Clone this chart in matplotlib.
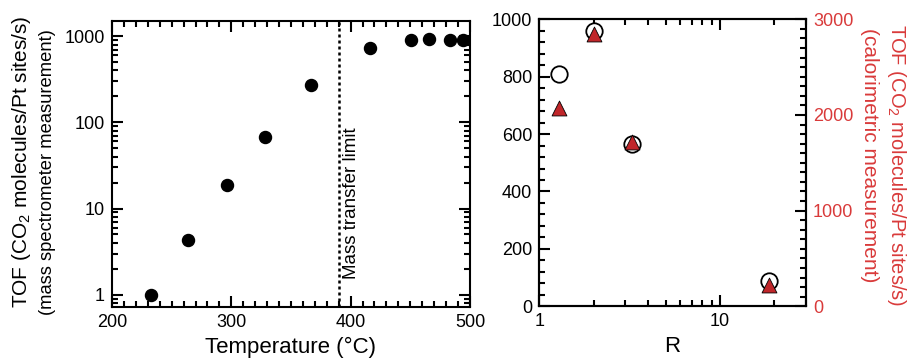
import matplotlib
matplotlib.use("Agg")
import matplotlib.pyplot as plt
from matplotlib.ticker import MultipleLocator, LogLocator, NullFormatter, FixedLocator

plt.rcParams["font.family"] = ["Liberation Sans", "DejaVu Sans"]
plt.rcParams["mathtext.fontset"] = "custom"
plt.rcParams["mathtext.rm"] = "Liberation Sans"
plt.rcParams["mathtext.it"] = "Liberation Sans:italic"

# left panel: TOF vs temperature (mass spectrometer)
temp_c = [233, 264, 296, 328, 367, 416, 451, 466, 483, 494]
tof_ms = [0.98, 4.3, 18.7, 68, 273, 720, 900, 918, 893, 901]
mass_limit_t = 390

# right panel: TOF vs R
r_circ = [1.29, 2.0, 3.28, 18.7]
tof_circ = [810, 960, 565, 88]
r_tri = [1.29, 2.0, 3.28, 18.7]
tof_cal = [2070, 2850, 1720, 220]

red = "#d93a3a"
dark_red = "#c0262a"

fig = plt.figure(figsize=(9.09, 3.6), dpi=100)

ax1 = fig.add_axes([0.1232, 0.1472, 0.3938, 0.7944])
ax1.scatter(temp_c, tof_ms, s=75, color="black", zorder=3, clip_on=False)
ax1.axvline(mass_limit_t, color="black", ls=(0, (1.2, 1.2)), lw=1.8)
ax1.text(mass_limit_t + 4, 11.6, "Mass transfer limit", rotation=90,
         ha="left", va="center", fontsize=13.5)
ax1.set_yscale("log")
ax1.set_xlim(200, 500)
ax1.set_ylim(0.72, 1500)
ax1.xaxis.set_major_locator(MultipleLocator(100))
ax1.xaxis.set_minor_locator(MultipleLocator(10))
ax1.yaxis.set_major_locator(FixedLocator([1, 10, 100, 1000]))
ax1.yaxis.set_major_formatter(matplotlib.ticker.FixedFormatter(["1", "10", "100", "1000"]))
ax1.yaxis.set_minor_locator(LogLocator(base=10, subs=range(2, 10)))
ax1.yaxis.set_minor_formatter(NullFormatter())
ax1.tick_params(which="both", direction="in", top=True, right=True, width=1.5)
ax1.tick_params(which="major", length=8, labelsize=13, pad=5)
ax1.tick_params(which="minor", length=4.5)
for sp in ax1.spines.values():
    sp.set_linewidth(1.5)
ax1.set_xlabel("Temperature (°C)", fontsize=16, labelpad=4)

fig.text(0.024, 0.55, r"TOF (CO$_2$ molecules/Pt sites/s)", rotation=90,
         ha="center", va="center", fontsize=15)
fig.text(0.052, 0.522, "(mass spectrometer measurement)", rotation=90,
         ha="center", va="center", fontsize=13.2)

ax2 = fig.add_axes([0.5933, 0.1492, 0.2934, 0.7972])
ax2.scatter(r_circ, tof_circ, s=140, facecolor="white", edgecolor="black",
            linewidth=1.3, zorder=3, clip_on=False)
ax2.set_xscale("log")
ax2.set_xlim(1, 30)
ax2.set_ylim(0, 1000)
ax2.xaxis.set_major_locator(FixedLocator([1, 10]))
ax2.xaxis.set_major_formatter(matplotlib.ticker.FixedFormatter(["1", "10"]))
ax2.xaxis.set_minor_locator(LogLocator(base=10, subs=range(2, 10)))
ax2.xaxis.set_minor_formatter(NullFormatter())
ax2.yaxis.set_major_locator(MultipleLocator(200))
ax2.yaxis.set_minor_locator(MultipleLocator(40))
ax2.tick_params(which="both", direction="in", top=True, width=1.5)
ax2.tick_params(which="major", length=8, labelsize=13, pad=5)
ax2.tick_params(which="minor", length=4.5)
for sp in ax2.spines.values():
    sp.set_linewidth(1.5)
ax2.set_xlabel("R", fontsize=16, labelpad=4)

ax3 = ax2.twinx()
ax3.scatter(r_tri, tof_cal, s=115, marker="^", facecolor=dark_red,
            edgecolor="black", linewidth=0.6, zorder=4, clip_on=False)
ax3.set_ylim(0, 3000)
ax3.yaxis.set_major_locator(MultipleLocator(1000))
ax3.yaxis.set_minor_locator(MultipleLocator(100))
ax3.tick_params(which="both", direction="in", width=1.5, colors="black",
                labelcolor=red)
ax3.tick_params(which="major", length=8, labelsize=13, pad=5)
ax3.tick_params(which="minor", length=4.5)
for sp in ax3.spines.values():
    sp.set_linewidth(1.5)

fig.text(0.986, 0.542, r"TOF (CO$_2$ molecules/Pt sites/s)", rotation=270,
         ha="center", va="center", fontsize=14.5, color=red)
fig.text(0.957, 0.569, "(calorimetric measurement)", rotation=270,
         ha="center", va="center", fontsize=15, color=red)

fig.savefig("out.png", dpi=100)
